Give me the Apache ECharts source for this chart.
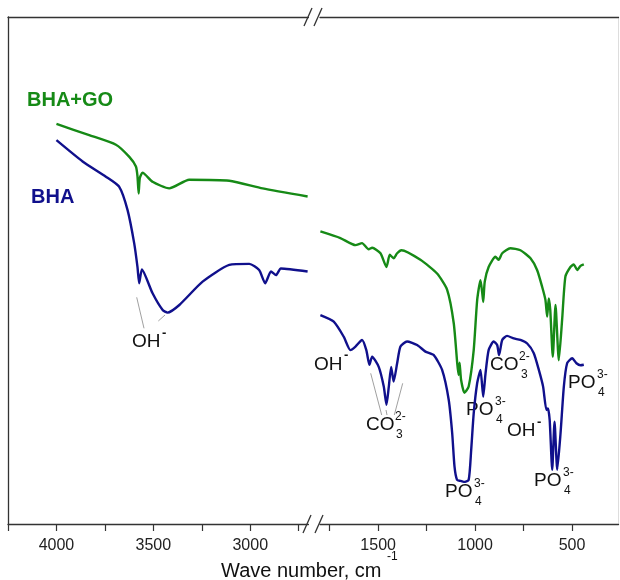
<!DOCTYPE html>
<html>
<head>
<meta charset="utf-8">
<script src="https://cdn.jsdelivr.net/npm/echarts@6/dist/echarts.min.js"></script>
<style>
  html, body { margin: 0; padding: 0; background: #fff; }
  #chart { width: 620px; height: 580px; }
</style>
</head>
<body>
<div id="chart"></div>
<script>
// FTIR spectra, broken wavenumber axis (4250-2700 | 1800-260)
const FONT = 'Liberation Sans, Arial, sans-serif';
const GREEN = '#168a16';
const NAVY = '#10108c';

// BHA+GO, high wavenumber part
const goLeftWave  = [4000, 3831, 3693, 3624, 3590, 3582, 3576, 3570, 3556, 3504, 3418, 3315, 3108, 2936, 2704];
const goLeftTrans = [78.9, 76.7, 74.8, 72.4, 70.5, 68.6, 65.2, 68.2, 69.3, 67.5, 66.2, 67.9, 67.7, 66.2, 64.6];

// BHA, high wavenumber part
const bhaLeftWave  = [4000, 3865, 3745, 3676, 3633, 3599, 3582, 3573, 3559, 3504, 3452, 3427, 3366, 3246, 3108, 3005, 2954, 2923, 2893, 2867, 2842, 2704];
const bhaLeftTrans = [75.7, 71.5, 68.5, 66.5, 61.9, 55.4, 50.7, 47.5, 50.2, 45.5, 42.2, 41.7, 43.2, 47.8, 51.1, 51.3, 50.1, 47.5, 49.8, 49.1, 50.4, 49.8];

// BHA+GO, fingerprint part
const goRightWave  = [1798, 1695, 1617, 1583, 1549, 1531, 1488, 1457, 1440, 1420, 1402, 1380, 1282, 1196, 1144, 1110, 1092, 1085, 1080, 1072, 1055, 1033, 1007, 989, 972, 963, 958, 950, 930, 895, 878, 860, 818, 766, 714, 680, 654, 637, 628, 620, 612, 599, 585, 568, 551, 534, 508, 491, 473, 456, 439];
const goRightTrans = [57.7, 56.4, 55.0, 55.4, 54.2, 54.5, 53.4, 50.7, 53.1, 52.4, 53.4, 54.0, 52.1, 49.4, 46.2, 39.6, 31.7, 29.4, 31.8, 28.4, 25.9, 27.1, 34.3, 44.2, 48.1, 45.6, 43.8, 47.8, 50.7, 52.7, 52.1, 53.4, 54.4, 54.0, 52.4, 50.1, 46.8, 44.2, 40.9, 44.5, 42.2, 33.0, 43.2, 32.3, 40.2, 48.8, 50.7, 51.2, 50.1, 50.9, 51.2];

// BHA, fingerprint part
const bhaRightWave  = [1798, 1729, 1677, 1643, 1617, 1583, 1561, 1545, 1531, 1497, 1471, 1457, 1445, 1433, 1420, 1402, 1385, 1351, 1299, 1256, 1213, 1170, 1136, 1118, 1106, 1093, 1075, 1058, 1033, 1020, 1007, 989, 972, 958, 946, 930, 904, 886, 876, 860, 835, 800, 766, 731, 697, 671, 649, 632, 624, 615, 602, 590, 576, 559, 542, 525, 499, 477, 456, 439];
const bhaRightTrans = [41.2, 39.9, 36.9, 34.3, 35.0, 36.3, 34.3, 31.4, 33.0, 31.0, 27.1, 23.5, 27.1, 31.0, 28.1, 31.7, 35.0, 36.0, 35.3, 34.0, 33.3, 30.4, 24.5, 17.9, 11.3, 8.7, 8.5, 8.3, 8.7, 14.6, 21.8, 27.8, 30.4, 25.1, 29.7, 34.3, 36.0, 35.3, 33.3, 36.3, 37.1, 36.6, 36.3, 35.6, 33.7, 30.4, 27.1, 22.5, 22.8, 20.5, 10.7, 20.2, 10.7, 17.9, 27.1, 31.7, 32.7, 31.7, 31.3, 31.4];

const leftTicks = [2750, 3000, 3250, 3500, 3750, 4000, 4250];
const leftLabels = [3000, 3500, 4000];
const rightTicks = [500, 750, 1000, 1250, 1500, 1750];
const rightLabels = [500, 1000, 1500];

function zip(a, b) { return a.map((v, i) => [v, b[i]]); }

function txt(s, x, y, size, color, weight) {
    return {
        type: 'text', x: x, y: y, silent: true,
        style: {
            text: s, fill: color || '#111', fontSize: size, fontFamily: FONT,
            fontWeight: weight || 'normal',
            textAlign: 'left', textVerticalAlign: 'middle', align: 'left', verticalAlign: 'middle'
        }
    };
}
function seg(x1, y1, x2, y2, color, w) {
    return { type: 'line', silent: true, shape: { x1: x1, y1: y1, x2: x2, y2: y2 },
             style: { stroke: color || '#333', lineWidth: w || 1.3 } };
}

// ion labels: main text, left, centre y, superscript, its x, subscript, its x
const ions = [
    ['OH', 132, 342, '-', 162, null, 0],
    ['OH', 314, 364.5, '-', 344, null, 0],
    ['CO', 366, 424.5, '2-', 395, '3', 396],
    ['PO', 445, 491.5, '3-', 474, '4', 475],
    ['PO', 466, 409.5, '3-', 495, '4', 496],
    ['CO', 490, 364.5, '2-', 519, '3', 521],
    ['OH', 507, 431, '-', 537, null, 0],
    ['PO', 534, 480.5, '3-', 563, '4', 564],
    ['PO', 568, 382.5, '3-', 597, '4', 598]
];

const graphics = [];
ions.forEach(function (d) {
    graphics.push(txt(d[0], d[1], d[2], 19));
    if (d[3] === '-') graphics.push(txt(d[3], d[4], d[2] - 9, 13, '#111', 'bold'));
    else graphics.push(txt(d[3], d[4], d[2] - 7.5, 12));
    if (d[5]) graphics.push(txt(d[5], d[6], d[2] + 10, 12));
});
// leader lines
graphics.push(seg(136.7, 297.3, 144, 328.3, '#888', 0.8));
graphics.push(seg(158.3, 321, 165, 315, '#888', 0.8));
graphics.push(seg(370.7, 373.3, 381.7, 415, '#888', 0.8));
graphics.push(seg(402.7, 383.3, 394.3, 415, '#888', 0.8));
graphics.push(seg(386, 410, 387, 415, '#888', 0.8));
// break marks
graphics.push(seg(304, 26, 312, 8));
graphics.push(seg(314, 26, 322, 8));
graphics.push(seg(303, 533, 311, 515));
graphics.push(seg(315, 533, 323, 515));
// sample names
graphics.push(txt('BHA+GO', 27, 100, 20, GREEN, 'bold'));
graphics.push(txt('BHA', 31, 197, 20, NAVY, 'bold'));
// axis title
graphics.push(txt('Wave number, cm', 221, 571, 20, '#111'));
graphics.push(txt('-1', 387, 557, 12, '#111'));

const axisLine = { show: true, lineStyle: { color: '#333', width: 1.3 } };
function bottomAxis(grid, min, max, ticks, labels) {
    return {
        type: 'value', gridIndex: grid, position: 'bottom', inverse: true, min: min, max: max,
        axisLine: axisLine,
        axisTick: { show: true, customValues: ticks, length: 7, lineStyle: { color: '#333', width: 1.2 } },
        axisLabel: { show: true, customValues: labels, margin: 14, fontSize: 16, color: '#222', fontFamily: FONT,
                     formatter: function (v) { return String(v); } },
        splitLine: { show: false }
    };
}
function topAxis(grid, min, max) {
    return {
        type: 'value', gridIndex: grid, position: 'top', inverse: true, min: min, max: max,
        axisLine: axisLine, axisTick: { show: false }, axisLabel: { show: false }, splitLine: { show: false }
    };
}

const chart = echarts.init(document.getElementById('chart'), null, { renderer: 'canvas' });
chart.setOption({
    animation: false,
    backgroundColor: '#fff',
    grid: [
        { left: 8, top: 17, width: 300.4, height: 507 },
        { left: 320, top: 17, width: 298.5, height: 507 }
    ],
    xAxis: [
        bottomAxis(0, 2700, 4250, leftTicks, leftLabels),
        bottomAxis(1, 260, 1800, rightTicks, rightLabels),
        topAxis(0, 2700, 4250),
        topAxis(1, 260, 1800)
    ],
    yAxis: [
        { type: 'value', gridIndex: 0, min: 0, max: 100, position: 'left',
          axisLine: axisLine, axisTick: { show: false }, axisLabel: { show: false }, splitLine: { show: false } },
        { type: 'value', gridIndex: 1, min: 0, max: 100, position: 'right',
          axisLine: { show: true, lineStyle: { color: '#ddd', width: 1 } },
          axisTick: { show: false }, axisLabel: { show: false }, splitLine: { show: false } }
    ],
    series: [
        { name: 'BHA+GO', type: 'line', xAxisIndex: 0, yAxisIndex: 0, data: zip(goLeftWave, goLeftTrans),
          showSymbol: false, smooth: 0.2, lineStyle: { color: GREEN, width: 2.4 } },
        { name: 'BHA', type: 'line', xAxisIndex: 0, yAxisIndex: 0, data: zip(bhaLeftWave, bhaLeftTrans),
          showSymbol: false, smooth: 0.2, lineStyle: { color: NAVY, width: 2.4 } },
        { name: 'BHA+GO', type: 'line', xAxisIndex: 1, yAxisIndex: 1, data: zip(goRightWave, goRightTrans),
          showSymbol: false, smooth: 0.2, lineStyle: { color: GREEN, width: 2.4 } },
        { name: 'BHA', type: 'line', xAxisIndex: 1, yAxisIndex: 1, data: zip(bhaRightWave, bhaRightTrans),
          showSymbol: false, smooth: 0.2, lineStyle: { color: NAVY, width: 2.4 } }
    ],
    graphic: graphics
});
</script>
</body>
</html>
